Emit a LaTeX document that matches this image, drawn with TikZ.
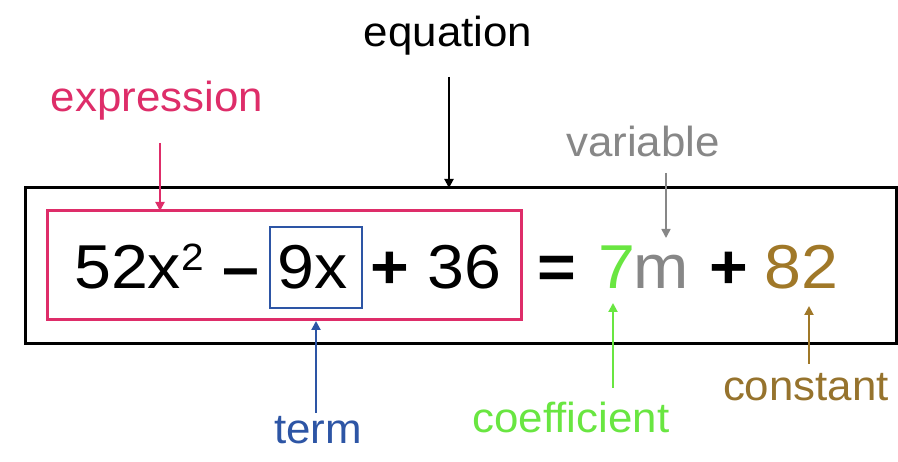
\documentclass[tikz,border=0pt]{standalone}
\usepackage{fontspec}
\setmainfont[FakeStretch=1.045]{Liberation Sans}
\newfontfamily\eqfont[FakeStretch=1.07]{Liberation Sans}
\usetikzlibrary{arrows.meta}
\definecolor{cpink}{RGB}{222,45,105}
\definecolor{cblue}{RGB}{45,85,165}
\definecolor{cgreen}{RGB}{105,230,65}
\definecolor{cgray}{RGB}{135,135,135}
\definecolor{cbrown}{RGB}{160,120,40}
\definecolor{cbrownt}{RGB}{150,115,45}
\tikzset{
  lbl/.style={inner sep=0pt, anchor=base, font=\fontsize{42}{48}\selectfont},
  eqt/.style={inner sep=0pt, anchor=base west, font=\eqfont\fontsize{62}{70}\selectfont},
  eqb/.style={inner sep=0pt, anchor=base west, font=\eqfont\fontsize{62}{70}\selectfont\bfseries},
  arr/.style={line width=2pt, -{Triangle[length=9pt,width=9pt]}},
}
\begin{document}
\begin{tikzpicture}[x=1pt,y=-1pt]
\useasboundingbox[fill=white] (0,0) rectangle (898,462);
% boxes
\draw[line width=3pt] (25,188) rectangle (896,344);
\draw[cpink, line width=3pt] (47,211) rectangle (521,320);
\coordinate (exprTop) at (160,211);
\coordinate (exprBot) at (316,321);
\draw[cblue, line width=2.5pt] (270,227) rectangle (362,308);
% equation
\node[eqt] (t52x) at (74,289) {52x};
\node[inner sep=0pt, anchor=base west, font=\eqfont\fontsize{38}{42}\selectfont] (tsq) at (181,271) {2};
\node[eqb] (tminus) at (222,289) {–};
\node[eqt] (t9x) at (277,289) {9x};
\node[eqb] (tplus1) at (370,289) {+};
\node[eqt] (t36) at (427,289) {36};
\node[eqb] (teq) at (537,289) {=};
\node[eqt, text=cgreen] (t7) at (598,289) {7};
\node[eqt, text=cgray] (tm) at (633,289) {m};
\node[eqb] (tplus2) at (709,289) {+};
\node[eqt, text=cbrown] (t82) at (764,289) {82};
% labels
\node[lbl, text=cpink] (lexpr) at (157,112) {expression};
\node[lbl] (leq) at (448,47) {equation};
\node[lbl, text=cgray] (lvar) at (643,157) {variable};
\node[lbl, text=cblue] (lterm) at (318,444) {term};
\node[lbl, text=cgreen] (lcoef) at (571,433) {coefficient};
\node[lbl, text=cbrownt] (lconst) at (806,401) {constant};
% arrows
\coordinate (aexpr) at (160,143);
\draw[arr, cpink] (aexpr) -- (exprTop);
\coordinate (aeq) at (449,77);
\coordinate (aeqEnd) at (449,188);
\draw[arr, black] (aeq) -- (aeqEnd);
\coordinate (avar) at (666,173);
\coordinate (avarEnd) at (666,238);
\draw[arr, cgray, line width=1.6pt] (avar) -- (avarEnd);
\coordinate (aterm) at (316,413);
\draw[arr, cblue] (aterm) -- (exprBot);
\coordinate (acoef) at (613,388);
\coordinate (acoefEnd) at (613,303);
\draw[arr, cgreen] (acoef) -- (acoefEnd);
\coordinate (aconst) at (809,364);
\coordinate (aconstEnd) at (809,306);
\draw[arr, cbrown] (aconst) -- (aconstEnd);
\end{tikzpicture}
\end{document}
